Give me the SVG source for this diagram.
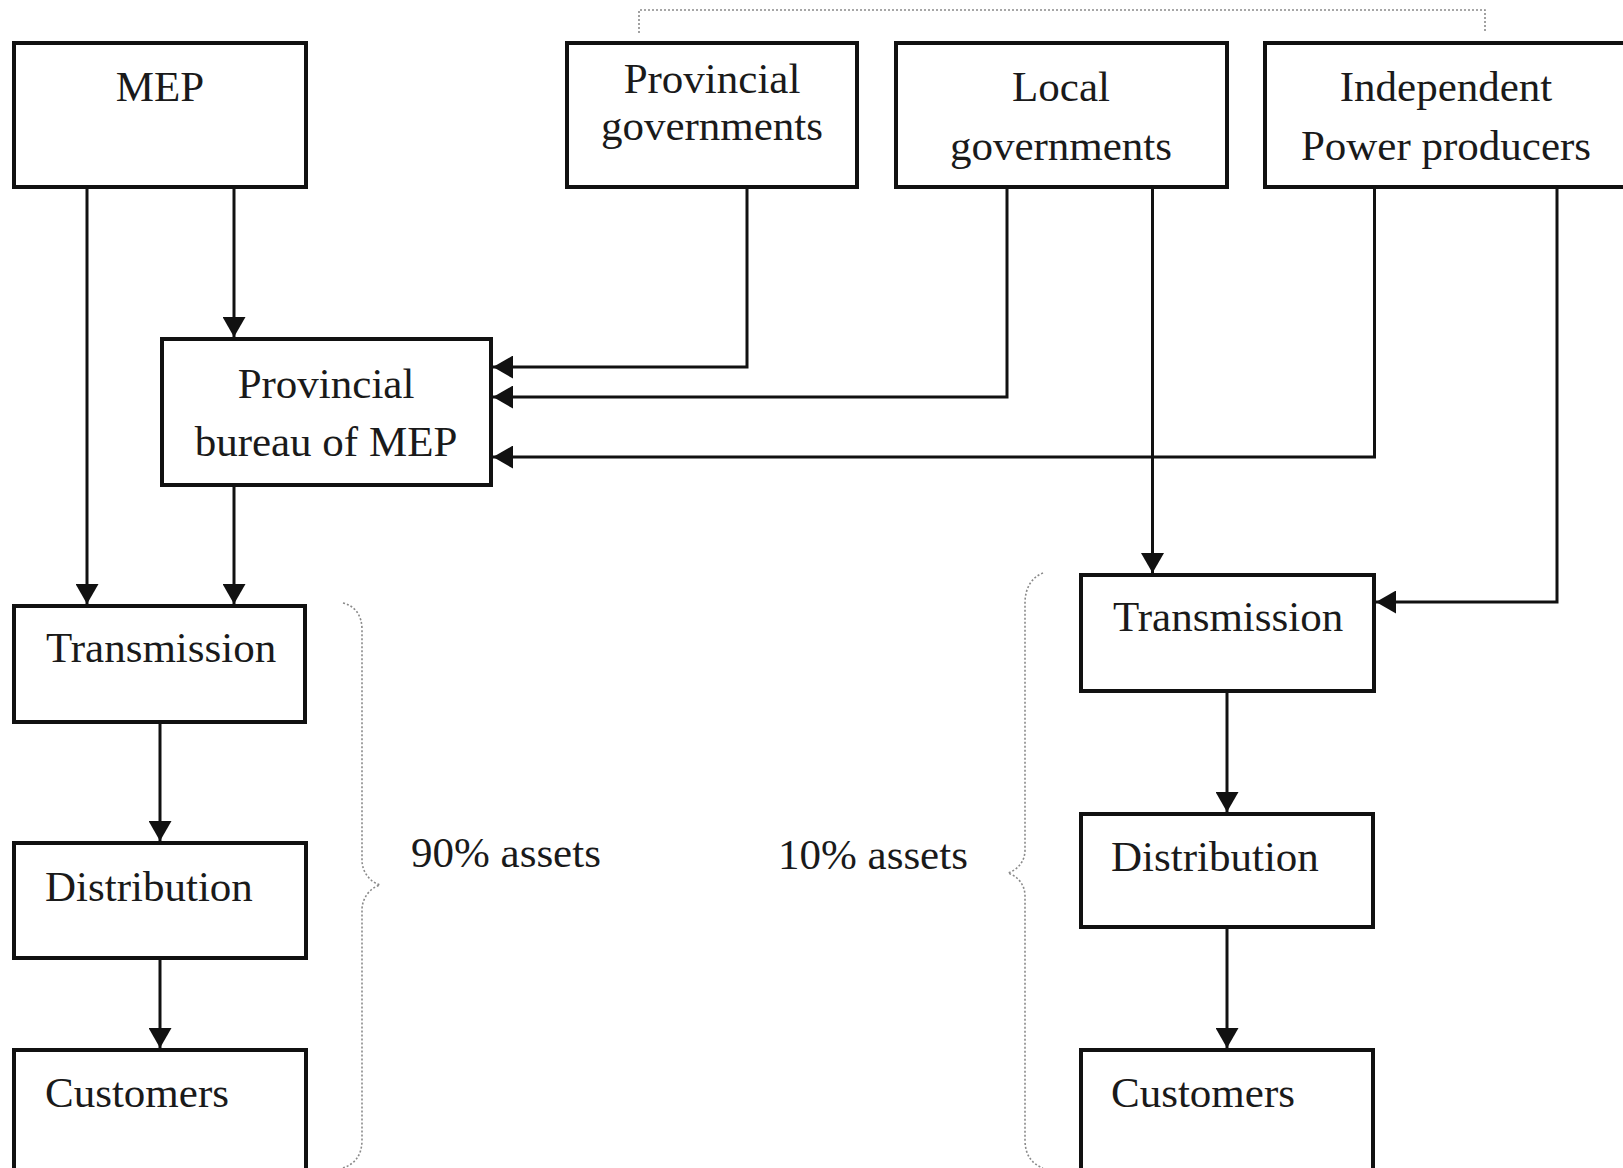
<svg xmlns="http://www.w3.org/2000/svg" width="1623" height="1168" viewBox="0 0 1623 1168">
<style>
.box{fill:#fff;stroke:#111;stroke-width:4}
.t{font-family:"Liberation Serif","Times New Roman",serif;font-size:43px;fill:#1a1a1a}
.c{text-anchor:middle}
.con{fill:none;stroke:#111;stroke-width:3}
.dot{fill:none;stroke:#8a8a8a;stroke-width:1.6;stroke-dasharray:2 2}
</style>
<defs>
<marker id="arr" viewBox="0 0 20 23" refX="20" refY="11.5" markerWidth="20" markerHeight="23" markerUnits="userSpaceOnUse" orient="auto">
<path d="M0,0 L20,11.5 L0,23 z" fill="#111"/>
</marker>
</defs>
<rect width="1623" height="1168" fill="#fff"/>

<g id="annotations">
<path class="dot" d="M639 33 V10 H1485 V33"/>
<path class="dot" d="M343 603 C355 606 362 615 362 630 V860 C362 872 370 882 380 885 C370 888 362 898 362 910 V1140 C362 1155 355 1164 343 1168"/>
<path class="dot" d="M1043 573 C1032 577 1025 588 1025 603 V850 C1025 862 1017 870 1008 873 C1017 876 1025 884 1025 896 V1140 C1025 1155 1032 1164 1043 1168"/>
<text class="t" x="411" y="867">90% assets</text>
<text class="t" x="778" y="869">10% assets</text>
</g>

<g id="connectors">
<path class="con" marker-end="url(#arr)" d="M87 189 V604"/>
<path class="con" marker-end="url(#arr)" d="M234 189 V337"/>
<path class="con" marker-end="url(#arr)" d="M234 487 V604"/>
<path class="con" marker-end="url(#arr)" d="M160 724 V841"/>
<path class="con" marker-end="url(#arr)" d="M160 960 V1048"/>
<path class="con" marker-end="url(#arr)" d="M747 189 V367 H493"/>
<path class="con" marker-end="url(#arr)" d="M1007 189 V397 H493"/>
<path class="con" marker-end="url(#arr)" d="M1374.5 189 V457 H493"/>
<path class="con" marker-end="url(#arr)" d="M1152.5 189 V573"/>
<path class="con" marker-end="url(#arr)" d="M1557 189 V602 H1376"/>
<path class="con" marker-end="url(#arr)" d="M1227 693 V812"/>
<path class="con" marker-end="url(#arr)" d="M1227 929 V1048"/>
</g>

<g id="mep">
<rect class="box" x="14" y="43" width="292" height="144"/>
<text class="t c" x="160" y="101">MEP</text>
</g>
<g id="provincial-governments">
<rect class="box" x="567" y="43" width="290" height="144"/>
<text class="t c" x="712" y="93">Provincial</text>
<text class="t c" x="712" y="140">governments</text>
</g>
<g id="local-governments">
<rect class="box" x="896" y="43" width="331" height="144"/>
<text class="t c" x="1061" y="101">Local</text>
<text class="t c" x="1061" y="160">governments</text>
</g>
<g id="independent-power-producers">
<rect class="box" x="1265" y="43" width="370" height="144"/>
<text class="t c" x="1446" y="101">Independent</text>
<text class="t c" x="1446" y="160">Power producers</text>
</g>
<g id="provincial-bureau">
<rect class="box" x="162" y="339" width="329" height="146"/>
<text class="t c" x="326" y="398">Provincial</text>
<text class="t c" x="326" y="456">bureau of MEP</text>
</g>
<g id="transmission-left">
<rect class="box" x="14" y="606" width="291" height="116"/>
<text class="t" x="46" y="662">Transmission</text>
</g>
<g id="distribution-left">
<rect class="box" x="14" y="843" width="292" height="115"/>
<text class="t" x="45" y="901">Distribution</text>
</g>
<g id="customers-left">
<rect class="box" x="14" y="1050" width="292" height="140"/>
<text class="t" x="45" y="1107">Customers</text>
</g>
<g id="transmission-right">
<rect class="box" x="1081" y="575" width="293" height="116"/>
<text class="t" x="1113" y="631">Transmission</text>
</g>
<g id="distribution-right">
<rect class="box" x="1081" y="814" width="292" height="113"/>
<text class="t" x="1111" y="871">Distribution</text>
</g>
<g id="customers-right">
<rect class="box" x="1081" y="1050" width="292" height="140"/>
<text class="t" x="1111" y="1107">Customers</text>
</g>
</svg>
